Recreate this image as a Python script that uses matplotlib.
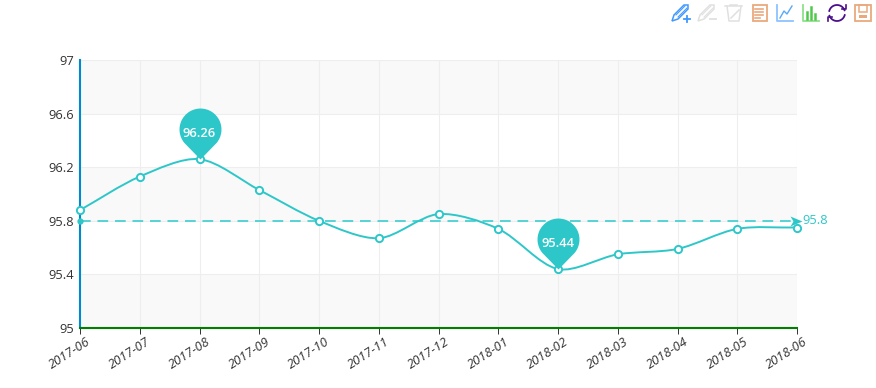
import matplotlib
matplotlib.use("Agg")
import matplotlib.pyplot as plt
from matplotlib.path import Path
from matplotlib.patches import PathPatch, Rectangle, Polygon
from matplotlib.transforms import ScaledTranslation
import numpy as np

plt.rcParams['font.family'] = ['Open Sans', 'DejaVu Sans']

months = ['2017-06', '2017-07', '2017-08', '2017-09', '2017-10', '2017-11', '2017-12',
          '2018-01', '2018-02', '2018-03', '2018-04', '2018-05', '2018-06']
values = [95.88, 96.13, 96.26, 96.03, 95.80, 95.67, 95.85, 95.74, 95.44, 95.55, 95.59, 95.74, 95.75]
yticks = [95, 95.4, 95.8, 96.2, 96.6, 97]
ytick_labels = ['95', '95.4', '95.8', '96.2', '96.6', '97']
mean_value = 95.8
max_idx = 2
min_idx = 8

TEAL = '#2ec7c9'
W, H = 876, 388
L, R, T, B = 80, 797, 60, 328


# smooth line like echarts: bezier control points from neighbours, in pixel space
def smooth_path(ax, xs, ys, smooth=0.3):
    pts = ax.transData.transform(np.column_stack([xs, ys]))
    n = len(pts)
    verts = [pts[0]]
    codes = [Path.MOVETO]
    for i in range(n - 1):
        p0, p1 = pts[i], pts[i + 1]
        prev = pts[max(i - 1, 0)]
        nxt = pts[min(i + 2, n - 1)]
        d0 = np.hypot(*(p1 - p0))
        v1 = p1 - prev
        dp = np.hypot(*(p0 - prev))
        c1 = p0 + v1 * smooth * d0 / (dp + d0)
        v2 = nxt - p0
        dn = np.hypot(*(nxt - p1))
        c2 = p1 - v2 * smooth * d0 / (dn + d0)
        verts += [c1, c2, p1]
        codes += [Path.CURVE4] * 3
    return Path(ax.transData.inverted().transform(np.array(verts)), codes)


# pin shape, tip on the origin, units are px
def pin_marker():
    arc = Path.arc(-40, 220)
    v = arc.vertices * 21 + [0, 30]
    c = list(arc.codes)
    v = np.vstack([v, [[0, 0]], [v[0]]])
    c += [Path.LINETO, Path.LINETO]
    return Path(v, c)


fig = plt.figure(figsize=(W / 100, H / 100), dpi=100)
ax = fig.add_axes([L / W, 1 - B / H, (R - L) / W, (B - T) / H])
x = np.arange(len(months))
ax.set_xlim(0, len(months) - 1)
ax.set_ylim(95, 97)

# alternating bands
for i in range(0, len(yticks) - 1, 2):
    ax.axhspan(yticks[i], yticks[i + 1], color='#f9f9f9', lw=0, zorder=0)
ax.set_axisbelow(True)
ax.grid(True, color='#eeeeee', lw=0.75)

ax.spines['top'].set_visible(False)
ax.spines['right'].set_visible(False)
ax.spines['left'].set_color('#008acd')
ax.spines['left'].set_linewidth(1.5)
ax.spines['bottom'].set_color('#008000')
ax.spines['bottom'].set_linewidth(1.5)

ax.set_yticks(yticks, ytick_labels)
ax.tick_params(axis='y', length=0, pad=4.5, labelsize=9.3, labelcolor='#333333')
ax.set_xticks(x, months)
ax.tick_params(axis='x', length=4, width=0.7, color='#333333', pad=1, labelsize=9.3, labelcolor='#333333')
shift = ScaledTranslation(6 / 100, 0, fig.dpi_scale_trans)
for lab in ax.get_xticklabels():
    lab.set_rotation(33)
    lab.set_ha('right')
    lab.set_va('top')
    lab.set_rotation_mode('anchor')
    lab.set_fontstyle('italic')
    lab.set_transform(lab.get_transform() + shift)

# mean line
ax.plot([x[0], x[-1] - 0.05], [mean_value, mean_value], color='#55d3d5', lw=1.4, dashes=(5.5, 3.5),
        clip_on=False, zorder=3)
ax.plot([x[0]], [mean_value], 'o', color=TEAL, ms=3.5, clip_on=False, zorder=3)
ax.plot([x[-1] - 0.02], [mean_value], marker=Path([(-6, 5), (6, 0), (-6, -5), (-3, 0), (-6, 5)]), ms=8.6,
        color=TEAL, mew=0, clip_on=False, zorder=3)
ax.annotate(str(mean_value), (x[-1], mean_value), xytext=(4.2, 0), textcoords='offset points',
            color=TEAL, fontsize=9.3, va='center', annotation_clip=False)

# series
ax.add_patch(PathPatch(smooth_path(ax, x, values), fc='none', ec=TEAL, lw=1.4, zorder=4, clip_on=False))
ax.plot(x, values, ls='none', marker='o', ms=5.2, mfc='white', mec=TEAL, mew=1.4, clip_on=False, zorder=5)

# max and min pins
for i in (max_idx, min_idx):
    ax.plot([x[i]], [values[i]], marker=pin_marker(), ms=73.4, color=TEAL, mew=0, ls='none', zorder=6)
    ax.annotate(f'{values[i]:.2f}', (x[i], values[i]), xytext=(0, 18.5), textcoords='offset points',
                color='white', fontsize=9.3, fontweight='semibold', ha='center', va='center', zorder=7)

# toolbox icons, in pixel coords
ov = fig.add_axes([0, 0, 1, 1], zorder=10)
ov.set_xlim(0, W)
ov.set_ylim(H, 0)
ov.axis('off')
ov.patch.set_alpha(0)


def pencil(x0, col, plus):
    ov.add_patch(Polygon([(x0, 21), (x0 + 2, 15), (x0 + 12, 5), (x0 + 16, 5), (x0 + 16, 9), (x0 + 6, 19)],
                         fc='none', ec=col, lw=1.1))
    ov.plot([x0 + 4, x0 + 13], [15, 6], color=col, lw=0.7)
    ov.plot([x0 + 6, x0 + 15], [17, 8], color=col, lw=0.7)
    ov.plot([x0 + 12, x0 + 18], [19, 19], color=col, lw=1.3)
    if plus:
        ov.plot([x0 + 15, x0 + 15], [16, 22], color=col, lw=1.3)


pencil(672, '#3e98ff', True)
pencil(698, '#e0e0e0', False)

# trash
ov.plot([725, 742], [6, 6], color='#e0e0e0', lw=1.1)
ov.plot([730, 737], [4.5, 4.5], color='#e0e0e0', lw=1.1)
ov.plot([727, 729, 739, 741], [6, 21, 21, 6], color='#e0e0e0', lw=1.1)
ov.plot([731, 739], [18, 10], color='#e0e0e0', lw=1.1)

# data view
ov.add_patch(Rectangle((752.5, 5), 14, 16, fc='none', ec='#e9a97d', lw=1.3))
for yy, xe in zip([9, 12, 15, 18], [763, 763, 763, 760]):
    ov.plot([755, xe], [yy, yy], color='#e9a97d', lw=1.2)

# line chart
ov.plot([777, 777, 793], [5, 20.5, 20.5], color='#8cc4ff', lw=1.3)
ov.plot([780, 784, 787, 792], [18, 11, 14, 6], color='#5aa9f5', lw=1.0)

# bar chart
ov.plot([803, 803, 819], [5, 20.5, 20.5], color='#8fe08c', lw=1.3)
for bx, btop in zip([807, 811, 815], [12, 7, 14]):
    ov.plot([bx, bx], [btop, 19], color='#4fc94a', lw=1.8)

# restore
rest = np.radians(np.linspace(20, 165, 30))
ov.plot(837 + 8 * np.cos(rest), 13 - 8 * np.sin(rest), color='#4b0f8c', lw=1.3)
ov.plot(837 - 8 * np.cos(rest), 13 + 8 * np.sin(rest), color='#4b0f8c', lw=1.3)
ov.plot([842, 846, 846], [9, 9, 5], color='#4b0f8c', lw=1.2)
ov.plot([832, 828, 828], [17, 17, 21], color='#4b0f8c', lw=1.2)

# save
ov.add_patch(Rectangle((855, 5), 15.5, 16, fc='none', ec='#e9a97d', lw=1.3))
ov.add_patch(Rectangle((859, 5), 8, 7, fc='none', ec='#e9a97d', lw=1.1))
ov.add_patch(Rectangle((859, 15), 8, 3, fc='#e9a97d', ec='none'))

fig.savefig('out.png', dpi=100)
